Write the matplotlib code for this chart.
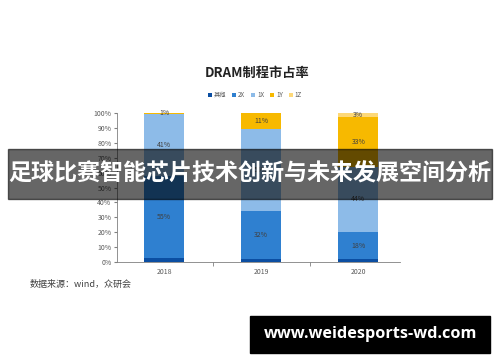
import matplotlib.pyplot as plt
from matplotlib.patches import Rectangle

plt.rcParams['font.family'] = ['Noto Sans CJK SC', 'DejaVu Sans']

years = ["2018", "2019", "2020"]
series = ["其他", "2X", "1X", "1Y", "1Z"]
qita = [3, 2, 2]
x2 = [55, 32, 18]
x1 = [41, 55, 44]
y1 = [1, 11, 33]
z1 = [0, 0, 3]
colores = ["#0b4ea2", "#2f80d0", "#8dbbe8", "#f7b900", "#fdd878"]

valores = [qita, x2, x1, y1, z1]

fig = plt.figure(figsize=(5, 3.62), dpi=100)
ax = fig.add_axes([0.234, 0.276, 0.566, 0.412])

pos = list(range(len(years)))
base = [0, 0, 0]
for nombre, vals, col in zip(series, valores, colores):
    ax.bar(pos, vals, bottom=base, width=0.41, color=col, label=nombre)
    for i, v in enumerate(vals):
        if nombre != "其他" and v > 0:
            yy = base[i] + v / 2
            if v < 2:
                yy = base[i] + v - 0.3
            ax.text(pos[i], yy, f"{v}%", ha="center", va="center",
                    fontsize=5, color="#404040")
    base = [b + v for b, v in zip(base, vals)]

ax.set_ylim(0, 100)
ax.set_xlim(-0.485, 2.43)
ax.set_yticks(range(0, 101, 10))
ax.set_yticklabels([f"{t}%" for t in range(0, 101, 10)], fontsize=5, color="#595959")
ax.set_xticks(pos)
ax.set_xticklabels(years, fontsize=5, color="#595959")
ax.set_xticks([0.5, 1.5], minor=True)
ax.tick_params(axis="x", which="major", length=0, pad=4)
ax.tick_params(axis="x", which="minor", length=3, color="#808080")
ax.tick_params(axis="y", length=2, color="#808080", pad=2)
for s in ["top", "right"]:
    ax.spines[s].set_visible(False)
ax.spines["left"].set_color("#808080")
ax.spines["bottom"].set_color("#808080")
ax.spines["left"].set_linewidth(0.6)
ax.spines["bottom"].set_linewidth(0.6)

fig.text(0.514, 0.798, "DRAM制程市占率", ha="center", va="center", fontsize=9.5,
         color="#222222", fontweight="bold")
fig.legend(loc="center", bbox_to_anchor=(0.51, 0.738), ncol=5, fontsize=4.5,
           frameon=False, handlelength=0.6, handleheight=0.6, columnspacing=1.0,
           handletextpad=0.3, labelcolor="#595959")

fig.text(0.06, 0.215, "数据来源：wind，众研会", fontsize=6.5, color="#404040",
         va="center")

# banda gris del titulo
fig.patches.append(Rectangle((0.016, 0.45), 0.968, 0.138, transform=fig.transFigure,
                             color="black", alpha=0.6, zorder=5))
fig.text(0.5, 0.518, "足球比赛智能芯片技术创新与未来发展空间分析", ha="center",
         va="center", fontsize=16.6, color="white", fontweight="bold", zorder=6)

# recuadro negro de la web
fig.patches.append(Rectangle((0.5, 0.025), 0.48, 0.102, transform=fig.transFigure,
                             color="black", zorder=5))
fig.text(0.741, 0.076, "www.weidesports-wd.com", ha="center", va="center",
         fontsize=11.7, color="white", fontweight="bold", zorder=6,
         family=["Open Sans", "DejaVu Sans"])

fig.savefig("out.png", dpi=100)
